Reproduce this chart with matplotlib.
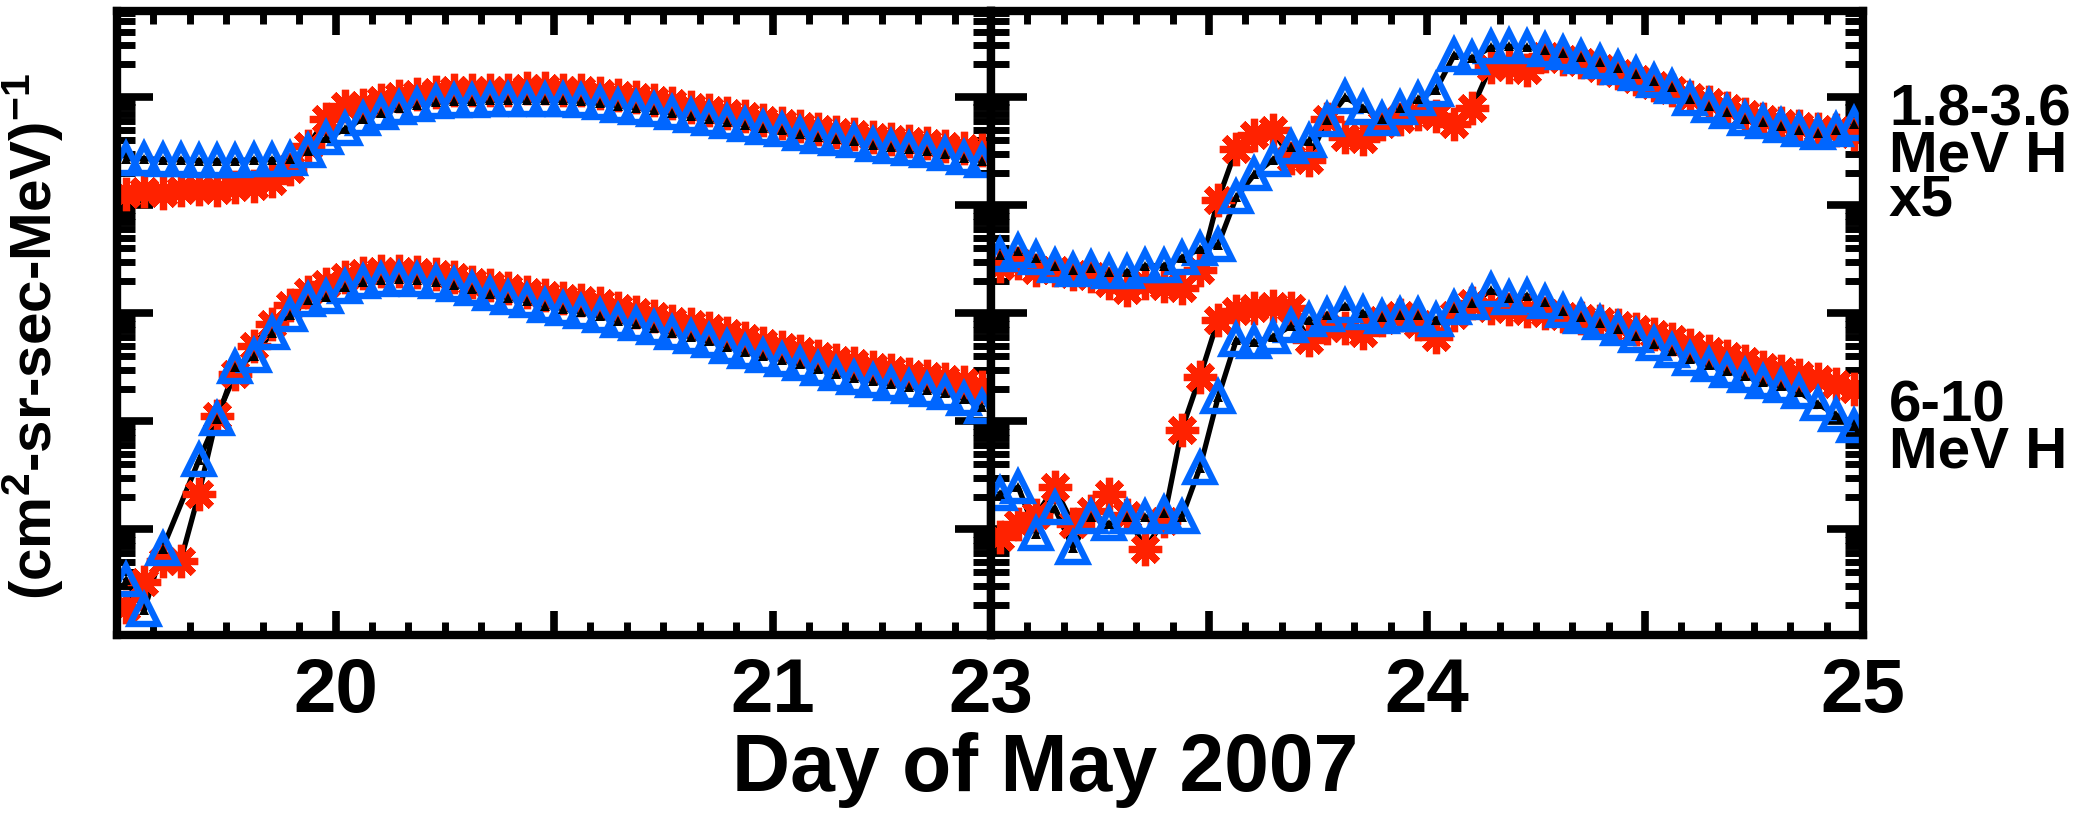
import numpy as np
import matplotlib
matplotlib.use("Agg")
import matplotlib.pyplot as plt
from matplotlib.ticker import MultipleLocator, LogLocator, NullFormatter, FuncFormatter

plt.rcParams['font.family'] = ['Liberation Sans', 'DejaVu Sans']
plt.rcParams['font.weight'] = 'bold'
plt.rcParams['mathtext.fontset'] = 'custom'
plt.rcParams['mathtext.rm'] = 'Liberation Sans:bold'
plt.rcParams['mathtext.it'] = 'Liberation Sans:bold'
plt.rcParams['mathtext.bf'] = 'Liberation Sans:bold'

# ---------------- data (hourly averages) ----------------
t_left = 19.5 + (np.arange(48) + 0.5) / 24.0
t_right = 23.0 + (np.arange(48) + 0.5) / 24.0

# 1.8-3.6 MeV H (x5), left panel
left_hi_red = [12.6, 13.5, 12.9, 13.8, 14.1, 13.8, 14.8, 15.1, 16.6, 21.4,
               35.5, 63.1, 83.2, 85.1, 93.3, 102, 107, 112, 115, 115,
               117, 117, 120, 120, 117, 115, 110, 105, 100, 93.3,
               87.1, 81.3, 75.9, 70.8, 66.1, 61.7, 57.5, 53.7, 50.1, 47.9,
               45.7, 42.7, 40.7, 38.9, 37.2, 35.5, 33.9, 32.4]
left_hi_blue = [26.9, 26.9, 26.3, 26.3, 25.7, 25.7, 25.7, 26.3, 26.3, 26.9,
                31.6, 41.7, 50.1, 63.1, 70.8, 79.4, 85.1, 89.1, 91.2, 91.2,
                93.3, 93.3, 93.3, 93.3, 93.3, 91.2, 87.1, 83.2, 79.4, 75.9,
                70.8, 66.1, 63.1, 58.9, 55.0, 51.3, 49.0, 45.7, 42.7, 40.7,
                38.9, 36.3, 34.7, 33.1, 31.6, 29.5, 27.5, 25.7]
# 6-10 MeV H, left panel
left_lo_red = [1.91e-3, 3.24e-3, 5.13e-3, 5.13e-3, 2.14e-2, 0.112, 0.275, 0.501, 0.794, 1.20,
               1.58, 1.86, 2.14, 2.34, 2.45, 2.45, 2.40, 2.29, 2.14, 1.95,
               1.82, 1.70, 1.58, 1.48, 1.38, 1.32, 1.23, 1.12, 1.02, 0.933,
               0.851, 0.794, 0.724, 0.661, 0.589, 0.525, 0.490, 0.447, 0.398, 0.372,
               0.347, 0.316, 0.295, 0.275, 0.263, 0.245, 0.229, 0.209]
left_lo_blue = [3.39e-3, 1.78e-3, 6.61e-3, np.nan, 4.37e-2, 0.105, 0.316, 0.398, 0.661, 0.955,
                1.32, 1.41, 1.74, 1.95, 2.04, 2.09, 2.04, 1.95, 1.82, 1.66,
                1.51, 1.38, 1.29, 1.17, 1.10, 1.02, 0.933, 0.851, 0.794, 0.724,
                0.661, 0.603, 0.550, 0.490, 0.437, 0.398, 0.372, 0.339, 0.302, 0.275,
                0.251, 0.234, 0.219, 0.209, 0.195, 0.182, 0.162, 0.135]

# 1.8-3.6 MeV H (x5), right panel
right_hi_red = [2.75, 2.88, 2.51, 2.51, 2.29, 2.19, 1.91, 1.62, 1.91, 1.78,
                1.70, 2.51, 11.2, 33.1, 44.7, 49.0, 27.5, 26.3, 63.1, 42.7,
                40.7, 56.2, 63.1, 69.2, 66.1, 56.2, 79.4, 191, 191, 178,
                240, 224, 209, 186, 166, 148, 129, 117, 100, 89.0,
                79.0, 70.0, 63.0, 58.0, 54.0, 51.0, 49.0, 45.0]
right_hi_blue = [3.43, 3.74, 3.27, 2.74, 2.51, 2.62, 2.40, 2.40, 2.74, 2.74,
                 3.27, 3.91, 4.28, 11.8, 19.3, 26.2, 34.3, 39.1, 61.0, 99.1,
                 79.4, 63.1, 79.4, 95.5, 117, 245, 229, 288, 295, 288,
                 275, 257, 234, 209, 186, 162, 141, 123, 95.5, 83.2,
                 72.4, 63.1, 58.9, 53.7, 49.0, 46.8, 49.0, 56.2]
# 6-10 MeV H, right panel
right_lo_red = [8.51e-3, 1.12e-2, 1.35e-2, 2.45e-2, 1.12e-2, 1.48e-2, 2.14e-2, 1.35e-2, 6.61e-3, 1.20e-2,
                8.32e-2, 0.257, 0.871, 1.05, 1.12, 1.17, 1.12, 0.562, 0.724, 0.724,
                0.661, 0.871, 0.955, 0.794, 0.603, 0.955, 1.23, 1.12, 1.10, 1.05,
                1.00, 0.95, 0.91, 0.85, 0.78, 0.71, 0.64, 0.58, 0.51, 0.45,
                0.40, 0.36, 0.32, 0.29, 0.27, 0.245, 0.22, 0.20]
right_lo_blue = [2.14e-2, 2.45e-2, 9.12e-3, 1.58e-2, 6.76e-3, 1.29e-2, 1.12e-2, 1.29e-2, 1.29e-2, 1.41e-2,
                 1.29e-2, 3.72e-2, 0.166, 0.562, 0.537, 0.603, 0.759, 0.871, 0.955, 1.17,
                 1.00, 0.912, 0.955, 0.955, 0.871, 1.12, 1.23, 1.62, 1.38, 1.45,
                 1.26, 1.05, 0.93, 0.81, 0.71, 0.62, 0.52, 0.45, 0.38, 0.33,
                 0.29, 0.26, 0.23, 0.21, 0.185, 0.145, 0.115, 0.09]

left_xlim = (19.5, 21.5)
right_xlim = (23.0, 25.0)
left_labels = [20, 21]
right_labels = [23, 24, 25]
y_range = (1.05e-3, 625)

RED = '#ff2200'
BLUE = '#0066ff'

W, H = 2074, 816
fig = plt.figure(figsize=(W / 100, H / 100), dpi=100)
ax_top, ax_bot = 11, 635
xl0, xdiv, xr1 = 117, 991, 1863
axL = fig.add_axes([xl0 / W, 1 - ax_bot / H, (xdiv - xl0) / W, (ax_bot - ax_top) / H])
axR = fig.add_axes([xdiv / W, 1 - ax_bot / H, (xr1 - xdiv) / W, (ax_bot - ax_top) / H])


def draw_series(ax, t, red, blue):
    red = np.asarray(red, dtype=float)
    blue = np.asarray(blue, dtype=float)
    mr = np.isfinite(red)
    mb = np.isfinite(blue)
    ax.plot(t[mr], red[mr], color='black', lw=3.8, zorder=2)
    ax.plot(t[mb], blue[mb], color='black', lw=3.8, zorder=2)
    ax.plot(t, red, ls='none', marker=(8, 2, 0), ms=24, mew=5.2,
            color=RED, zorder=3)
    ax.plot(t, blue, ls='none', marker='^', ms=19.5, mew=4.6, mfc='none',
            mec=BLUE, zorder=4)
    ax.plot(t, blue, ls='none', marker='^', ms=7.5, color='black', mew=0, zorder=5)


draw_series(axL, t_left, left_hi_red, left_hi_blue)
draw_series(axL, t_left, left_lo_red, left_lo_blue)
draw_series(axR, t_right, right_hi_red, right_hi_blue)
draw_series(axR, t_right, right_lo_red, right_lo_blue)


def make_fmt(labels):
    def f(x, pos):
        for v in labels:
            if abs(x - v) < 1e-6:
                return str(v)
        return ''
    return FuncFormatter(f)


for ax, xl, labs in ((axL, left_xlim, left_labels), (axR, right_xlim, right_labels)):
    ax.set_yscale('log')
    ax.set_ylim(*y_range)
    ax.set_xlim(*xl)
    ax.yaxis.set_major_locator(LogLocator(base=10, numticks=30))
    ax.yaxis.set_minor_locator(LogLocator(base=10, subs=np.arange(2, 10), numticks=30))
    ax.yaxis.set_major_formatter(NullFormatter())
    ax.yaxis.set_minor_formatter(NullFormatter())
    ax.xaxis.set_major_locator(MultipleLocator(0.5))
    ax.xaxis.set_minor_locator(MultipleLocator(1 / 12))
    ax.xaxis.set_major_formatter(make_fmt(labs))
    ax.tick_params(which='both', direction='in', top=True, bottom=True,
                   left=True, right=True, color='black')
    ax.tick_params(axis='x', which='major', length=17, width=5.5, pad=16,
                   labelsize=55)
    ax.tick_params(axis='x', which='minor', length=9.5, width=5)
    ax.tick_params(axis='y', which='major', length=26, width=5.5)
    ax.tick_params(axis='y', which='minor', length=13, width=5)
    for sp in ax.spines.values():
        sp.set_linewidth(6)
        sp.set_capstyle('projecting')
        sp.set_zorder(6)

fig.text(1045 / W, 1 - 791 / H, 'Day of May 2007', ha='center', va='baseline',
         fontsize=58, fontweight='bold')
fig.text(33 / W, 1 - 337 / H, r'(cm$^{2}$-sr-sec-MeV)$^{-1}$', rotation=90,
         ha='center', va='center', fontsize=42, fontweight='bold')

lab_x = 1889 / W
for txt, yb in (('1.8-3.6', 126), ('MeV H', 172), ('x5', 215),
                ('6-10', 421), ('MeV H', 467)):
    fig.text(lab_x, 1 - yb / H, txt, ha='left', va='baseline', fontsize=42,
             fontweight='bold')

fig.savefig('out.png', dpi=100)
